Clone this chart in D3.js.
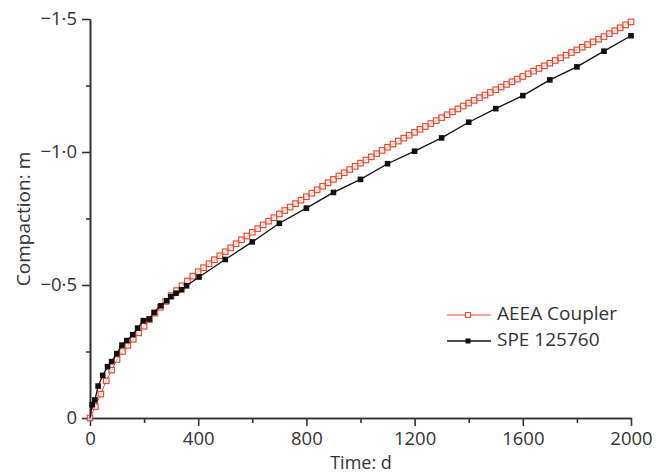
<!DOCTYPE html>
<html><head><meta charset="utf-8">
<script src="https://cdn.jsdelivr.net/npm/d3@7"></script>
<style>body{margin:0;background:#fff;} text{font-family:"Open Sans","DejaVu Sans",sans-serif;fill:#333;}</style>
</head><body>
<svg id="c" width="671" height="476"></svg>
<script>
// Data
const aeeaTime = [0,20,40,60,80,100,120,140,160,180,200,220,240,260,280,300,320,340,360,380,400,420,440,460,480,500,520,540,560,580,600,620,640,660,680,700,720,740,760,780,800,820,840,860,880,900,920,940,960,980,1000,1020,1040,1060,1080,1100,1120,1140,1160,1180,1200,1220,1240,1260,1280,1300,1320,1340,1360,1380,1400,1420,1440,1460,1480,1500,1520,1540,1560,1580,1600,1620,1640,1660,1680,1700,1720,1740,1760,1780,1800,1820,1840,1860,1880,1900,1920,1940,1960,1980,2000];
const aeeaValue = [0,-0.043,-0.090,-0.140,-0.180,-0.220,-0.250,-0.273,-0.296,-0.320,-0.345,-0.370,-0.394,-0.416,-0.438,-0.460,-0.479,-0.497,-0.515,-0.533,-0.550,-0.565,-0.580,-0.595,-0.610,-0.625,-0.640,-0.655,-0.670,-0.684,-0.698,-0.712,-0.726,-0.740,-0.753,-0.767,-0.780,-0.793,-0.806,-0.819,-0.832,-0.845,-0.858,-0.871,-0.884,-0.897,-0.910,-0.922,-0.934,-0.946,-0.958,-0.970,-0.982,-0.994,-1.006,-1.018,-1.030,-1.041,-1.052,-1.063,-1.074,-1.085,-1.096,-1.107,-1.118,-1.129,-1.140,-1.151,-1.162,-1.173,-1.184,-1.194,-1.204,-1.214,-1.224,-1.234,-1.244,-1.254,-1.264,-1.274,-1.284,-1.294,-1.304,-1.314,-1.324,-1.334,-1.344,-1.354,-1.364,-1.374,-1.384,-1.394,-1.404,-1.414,-1.424,-1.434,-1.445,-1.456,-1.467,-1.478,-1.489];
const speTime = [0,8,18,30,47,65,80,99,118,136,158,176,197,219,237,262,284,299,318,339,357,403,500,600,700,800,900,1000,1100,1200,1300,1400,1500,1600,1700,1800,1900,2000];
const speValue = [0,-0.050,-0.068,-0.120,-0.160,-0.193,-0.212,-0.242,-0.274,-0.291,-0.313,-0.338,-0.366,-0.372,-0.397,-0.422,-0.441,-0.456,-0.469,-0.482,-0.497,-0.530,-0.596,-0.662,-0.732,-0.789,-0.848,-0.897,-0.956,-1.003,-1.053,-1.112,-1.163,-1.212,-1.271,-1.320,-1.379,-1.437];
const xTicks = [0,400,800,1200,1600,2000];
const xMinor = [200,600,1000,1400,1800];
const yTicks = [0,-0.5,-1.0,-1.5];
const yTickLabels = ["0","\u22120\u00b75","\u22121\u00b70","\u22121\u00b75"];
const yMinor = [-0.25,-0.75,-1.25];
const seriesNames = ["AEEA Coupler","SPE 125760"];
const redColor = "#ea4b30", blackColor = "#111";

const svg = d3.select("#c");
const x = d3.scaleLinear().domain([0,2000]).range([90,631]);
const y = d3.scaleLinear().domain([0,-1.5]).range([418,19]);

const aeea = aeeaTime.map((t,i)=>({t, v:aeeaValue[i]}));
const spe = speTime.map((t,i)=>({t, v:speValue[i]}));
const line = d3.line().x(d=>x(d.t)).y(d=>y(d.v));

// Axes
const gx = svg.append("g").attr("transform","translate(0,418)")
  .call(d3.axisBottom(x).tickValues(xTicks).tickSize(8).tickSizeOuter(0).tickPadding(6).tickFormat(d3.format("d")));
const gxm = svg.append("g").attr("transform","translate(0,418)")
  .call(d3.axisBottom(x).tickValues(xMinor).tickSize(5).tickSizeOuter(0).tickFormat(""));
const gy = svg.append("g").attr("transform","translate(90,0)")
  .call(d3.axisLeft(y).tickValues(yTicks).tickSize(8).tickSizeOuter(0).tickPadding(5).tickFormat((d,i)=>yTickLabels[i]));
const gym = svg.append("g").attr("transform","translate(90,0)")
  .call(d3.axisLeft(y).tickValues(yMinor).tickSize(4).tickSizeOuter(0).tickFormat(""));
[gx,gxm,gy,gym].forEach(g=>{
  g.select(".domain").attr("stroke","#333").attr("stroke-width",1.6);
  g.selectAll(".tick line").attr("stroke","#333").attr("stroke-width",1.6);
  g.selectAll(".tick text").style("font-size","18.5px").style("fill","#333");
});

// Series
svg.append("path").datum(aeea).attr("fill","none").attr("stroke",redColor).attr("stroke-width",1).attr("d",line);
svg.append("g").selectAll("rect").data(aeea).join("rect")
  .attr("x",d=>x(d.t)-2.75).attr("y",d=>y(d.v)-2.75).attr("width",5.5).attr("height",5.5)
  .attr("fill","#fff").attr("fill-opacity",0.6).attr("stroke",redColor).attr("stroke-width",1.2);

svg.append("path").datum(spe).attr("fill","none").attr("stroke",blackColor).attr("stroke-width",1.3).attr("d",line);
svg.append("g").selectAll("rect").data(spe.slice(1)).join("rect")
  .attr("x",d=>x(d.t)-2.8).attr("y",d=>y(d.v)-2.8).attr("width",5.6).attr("height",5.6)
  .attr("fill",blackColor);

// Axis labels
svg.append("text").attr("x",361).attr("y",469).attr("text-anchor","middle").style("font-size","18px").text("Time: d");
svg.append("text").attr("transform","translate(30,219) rotate(-90)").attr("text-anchor","middle").style("font-size","19px").text("Compaction: m");

// Legend
const lg = svg.append("g");
const lx0 = 447, lx1 = 491;
[[redColor,"open"],[blackColor,"filled"]].forEach((s,i)=>{
  const yy = 315 + i*26;
  lg.append("line").attr("x1",lx0).attr("x2",lx1).attr("y1",yy).attr("y2",yy).attr("stroke",s[0]).attr("stroke-width",i?1.3:1.1);
  if(i===0) lg.append("rect").attr("x",468-2.5).attr("y",yy-2.5).attr("width",5).attr("height",5).attr("fill","#fff").attr("stroke",s[0]).attr("stroke-width",1.1);
  else lg.append("rect").attr("x",468-2.5).attr("y",yy-2.5).attr("width",5).attr("height",5).attr("fill",s[0]);
  lg.append("text").attr("x",497).attr("y",yy+5).style("font-size","19px").text(seriesNames[i]);
});
</script>
</body></html>
